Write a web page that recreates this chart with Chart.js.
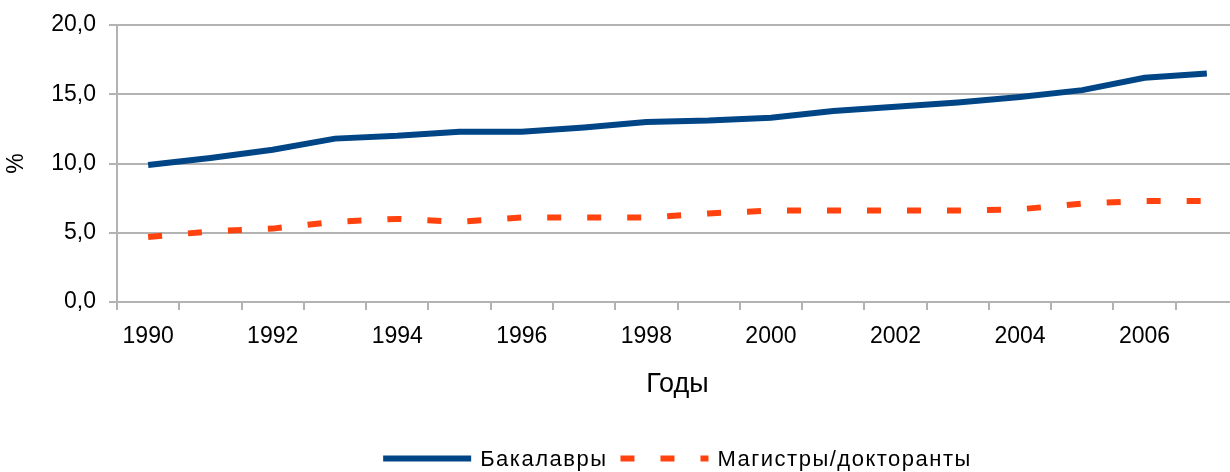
<!DOCTYPE html>
<html>
<head>
<meta charset="utf-8">
<script src="https://cdn.jsdelivr.net/npm/chart.js@4.4.1/dist/chart.umd.min.js"></script>
<style>
html, body { margin: 0; padding: 0; overflow: hidden; background: #fff; }
</style>
</head>
<body>
<canvas id="chart" width="1260" height="472"></canvas>
<script>
// данные
const years = [1990, 1991, 1992, 1993, 1994, 1995, 1996, 1997, 1998, 1999, 2000, 2001, 2002, 2003, 2004, 2005, 2006, 2007];
const bachelors = [9.9, 10.4, 11.0, 11.8, 12.0, 12.3, 12.3, 12.6, 13.0, 13.1, 13.3, 13.8, 14.1, 14.4, 14.8, 15.3, 16.2, 16.5];
const masters = [4.7, 5.1, 5.3, 5.8, 6.0, 5.8, 6.1, 6.1, 6.1, 6.4, 6.6, 6.6, 6.6, 6.6, 6.7, 7.1, 7.3, 7.3];
const shownYears = [1990, 1992, 1994, 1996, 1998, 2000, 2002, 2004, 2006];
const yMin = 0, yMax = 20, yStep = 5;

const FONT = '"Liberation Sans", Arial, sans-serif';
const gridColor = '#b3b3b3';

Chart.defaults.color = '#000';
Chart.defaults.font.family = FONT;
Chart.defaults.font.size = 23;

// легенда внизу, по центру области графика
const bottomLegend = {
    id: 'bottomLegend',
    afterDraw(chart) {
        const ctx = chart.ctx;
        const area = chart.chartArea;
        const y = 460;
        const sample = 88, gapText = 9, gapItem = 13;
        ctx.save();
        ctx.font = '22px ' + FONT;
        ctx.letterSpacing = '1.5px';
        ctx.textBaseline = 'middle';
        const items = chart.data.datasets.map(ds => ({ ds, w: ctx.measureText(ds.label).width }));
        const total = items.reduce((s, it) => s + sample + gapText + it.w, 0) + gapItem * (items.length - 1);
        let x = (area.left + area.right) / 2 - total / 2;
        items.forEach(it => {
            ctx.strokeStyle = it.ds.borderColor;
            ctx.lineWidth = 6;
            ctx.setLineDash(it.ds.borderDash || []);
            ctx.beginPath();
            ctx.moveTo(x, y - 1.5);
            ctx.lineTo(x + sample, y - 1.5);
            ctx.stroke();
            ctx.setLineDash([]);
            x += sample + gapText;
            ctx.fillStyle = '#000';
            ctx.fillText(it.ds.label, x, y);
            x += it.w + gapItem;
        });
        ctx.restore();
    }
};

const ctx = document.getElementById('chart').getContext('2d');
new Chart(ctx, {
    type: 'line',
    data: {
        labels: years,
        datasets: [
            {
                label: 'Бакалавры',
                data: bachelors,
                borderColor: '#004586',
                backgroundColor: '#004586',
                borderWidth: 6,
                pointRadius: 0,
                tension: 0
            },
            {
                label: 'Магистры/докторанты',
                data: masters,
                borderColor: '#ff420e',
                backgroundColor: '#ff420e',
                borderWidth: 6,
                borderDash: [14, 26],
                pointRadius: 0,
                tension: 0
            }
        ]
    },
    options: {
        responsive: false,
        animation: false,
        layout: { padding: { left: 0, right: 22, top: 25, bottom: 60 } },
        plugins: {
            legend: { display: false },
            tooltip: { enabled: false }
        },
        scales: {
            x: {
                offset: true,
                grid: {
                    offset: true,
                    drawOnChartArea: false,
                    drawTicks: true,
                    tickLength: 8,
                    color: gridColor,
                    lineWidth: 2
                },
                border: { color: gridColor, width: 2 },
                ticks: {
                    autoSkip: false,
                    maxRotation: 0,
                    padding: 13,
                    callback: function (value, index) {
                        const yr = years[index];
                        return shownYears.includes(yr) ? String(yr) : '';
                    }
                },
                title: {
                    display: true,
                    text: 'Годы',
                    font: { size: 27 },
                    padding: { top: 0, bottom: 11 }
                },
                afterFit: scale => { scale.height = 110; }
            },
            y: {
                min: yMin,
                max: yMax,
                grid: {
                    color: gridColor,
                    lineWidth: 2,
                    tickLength: 8
                },
                border: { color: gridColor, width: 2 },
                ticks: {
                    stepSize: yStep,
                    padding: 13,
                    font: { lineHeight: 1.05 },
                    callback: v => v.toFixed(1).replace('.', ',')
                },
                title: {
                    display: true,
                    text: '%',
                    font: { size: 23 },
                    padding: { top: 3, bottom: 0 }
                },
                afterFit: scale => { scale.width = 117; }
            }
        }
    },
    plugins: [bottomLegend]
});
</script>
</body>
</html>
